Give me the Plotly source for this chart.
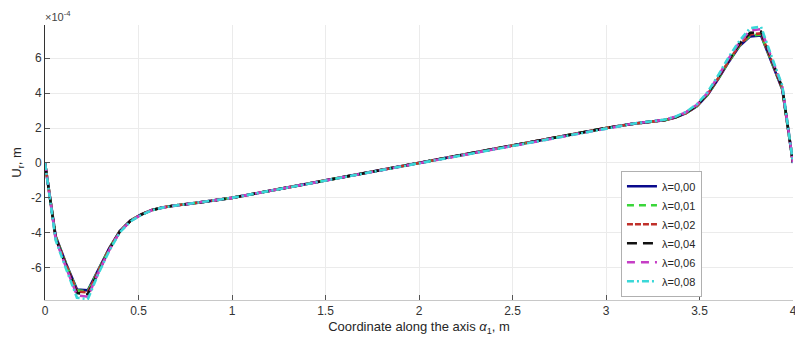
import plotly.graph_objects as go

# Coordinate along the axis (m)
x_coord = [0.000, 0.057, 0.114, 0.171, 0.229, 0.286, 0.343, 0.400, 0.457, 0.514,
           0.571, 0.629, 0.686, 0.800, 0.900, 1.000, 1.250, 1.500, 1.750, 2.000,
           2.250, 2.500, 2.750, 3.000, 3.150, 3.314, 3.371, 3.429, 3.486, 3.543,
           3.600, 3.657, 3.714, 3.771, 3.829, 3.886, 3.943, 4.000]

# U_r values in units of 1e-4 m
u_000 = [0.00, -4.20, -5.80, -7.25, -7.30, -6.10, -4.90, -3.90, -3.30, -2.95,
         -2.70, -2.55, -2.45, -2.30, -2.15, -2.00, -1.50, -1.00, -0.50, 0.00,
         0.50, 1.00, 1.50, 2.00, 2.25, 2.45, 2.60, 2.85, 3.25, 3.90,
         4.80, 5.80, 6.70, 7.25, 7.30, 5.80, 4.20, 0.00]
u_001 = [0.00, -4.22, -5.83, -7.30, -7.35, -6.12, -4.91, -3.90, -3.30, -2.95,
         -2.70, -2.55, -2.45, -2.30, -2.15, -2.00, -1.50, -1.00, -0.50, 0.00,
         0.50, 1.00, 1.50, 2.00, 2.25, 2.45, 2.60, 2.86, 3.26, 3.91,
         4.82, 5.82, 6.72, 7.30, 7.35, 5.82, 4.22, 0.00]
u_002 = [0.00, -4.25, -5.87, -7.36, -7.42, -6.15, -4.93, -3.91, -3.31, -2.95,
         -2.70, -2.55, -2.45, -2.30, -2.15, -2.00, -1.50, -1.00, -0.50, 0.00,
         0.50, 1.00, 1.50, 2.00, 2.25, 2.45, 2.61, 2.87, 3.27, 3.93,
         4.85, 5.86, 6.76, 7.36, 7.42, 5.86, 4.25, 0.00]
u_004 = [0.00, -4.30, -5.93, -7.45, -7.52, -6.20, -4.96, -3.93, -3.32, -2.96,
         -2.71, -2.55, -2.45, -2.30, -2.15, -2.00, -1.50, -1.00, -0.50, 0.00,
         0.50, 1.00, 1.50, 2.00, 2.25, 2.46, 2.62, 2.89, 3.30, 3.97,
         4.90, 5.92, 6.83, 7.45, 7.52, 5.92, 4.30, 0.00]
u_006 = [0.00, -4.36, -6.02, -7.58, -7.66, -6.26, -5.00, -3.95, -3.33, -2.97,
         -2.71, -2.56, -2.46, -2.30, -2.15, -2.00, -1.50, -1.00, -0.50, 0.00,
         0.50, 1.00, 1.50, 2.00, 2.26, 2.47, 2.64, 2.91, 3.33, 4.01,
         4.96, 6.00, 6.92, 7.58, 7.66, 6.00, 4.36, 0.00]
u_008 = [0.00, -4.42, -6.10, -7.72, -7.80, -6.33, -5.04, -3.98, -3.35, -2.98,
         -2.72, -2.56, -2.46, -2.31, -2.15, -2.00, -1.50, -1.00, -0.50, 0.00,
         0.50, 1.00, 1.50, 2.00, 2.26, 2.48, 2.65, 2.93, 3.36, 4.05,
         5.02, 6.08, 7.00, 7.72, 7.80, 6.08, 4.42, 0.00]

series_names = ["λ=0,00", "λ=0,01", "λ=0,02", "λ=0,04", "λ=0,06", "λ=0,08"]
series_vals = [u_000, u_001, u_002, u_004, u_006, u_008]

x_ticks = [0, 0.5, 1, 1.5, 2, 2.5, 3, 3.5, 4]
x_tick_labels = ["0", "0.5", "1", "1.5", "2", "2.5", "3", "3.5", "4"]
y_ticks = [-6, -4, -2, 0, 2, 4, 6]
y_tick_labels = ["-6", "-4", "-2", "0", "2", "4", "6"]

colors = ["#0a0a8c", "#3ad63a", "#c0302a", "#111111", "#c63ec6", "#3ad8d8"]
dashes = ["solid", "7px,5px", "6px,2px,6px,2px", "10px,6px", "8px,6px", "7px,3px,2px,3px"]

fig = go.Figure()
for name, vals, c, d in zip(series_names, series_vals, colors, dashes):
    fig.add_trace(go.Scatter(x=x_coord, y=vals, mode="lines", name=name,
                             line=dict(color=c, width=2.6, dash=d)))

font_family = "Liberation Sans, Arial, sans-serif"
fig.update_layout(
    width=795, height=339,
    margin=dict(l=45, r=2, t=25, b=39),
    paper_bgcolor="white", plot_bgcolor="white",
    font=dict(family=font_family, size=12, color="#262626"),
    xaxis=dict(range=[0, 4], tickvals=x_ticks, ticktext=x_tick_labels,
               showgrid=True, gridcolor="#ebebeb", gridwidth=1, automargin=False,
               zeroline=False, showline=True, linecolor="#c8c8c8", linewidth=1,
               ticks="inside", ticklen=5, tickcolor="#555555",
               ticklabeloverflow="allow",
               tickfont=dict(size=12, color="#333333"),
               title=dict(text="Coordinate along the axis <i>α</i><sub>1</sub>, m",
                          font=dict(size=13, color="#262626"), standoff=4)),
    yaxis=dict(range=[-7.85, 7.9], tickvals=y_ticks, ticktext=y_tick_labels,
               showgrid=True, gridcolor="#ebebeb", gridwidth=1, automargin=False,
               zeroline=False, showline=True, linecolor="#333333", linewidth=1,
               ticks="inside", ticklen=5, tickcolor="#555555",
               tickfont=dict(size=12, color="#333333"),
               title=dict(text="U<sub>r</sub>, m", font=dict(size=13, color="#262626"),
                          standoff=6)),
    legend=dict(x=0.77, y=0.47, xanchor="left", yanchor="top",
                bgcolor="white", bordercolor="#b0b0b0", borderwidth=1,
                font=dict(size=11, color="#262626"), tracegroupgap=0),
    showlegend=True,
)

fig.add_annotation(xref="paper", yref="paper", x=0, y=1.0, xanchor="left", yanchor="bottom",
                   text="×10<sup>-4</sup>", showarrow=False, xshift=-2, yshift=0,
                   font=dict(size=11, color="#444444"))

# remove the default page margin so the figure fills the 795x339 window exactly
fig.write_html("out.html", config={"displayModeBar": False},
               post_script="document.body.style.margin='0';document.body.style.overflow='hidden';")
